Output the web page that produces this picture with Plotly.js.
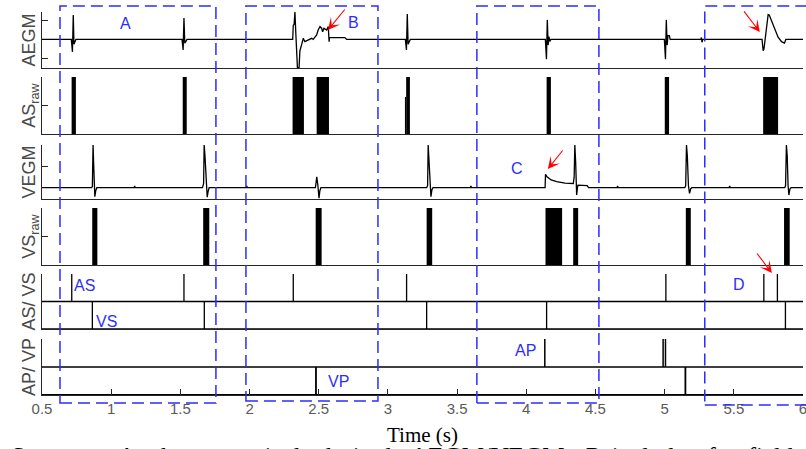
<!DOCTYPE html>
<html><head><meta charset="utf-8">
<script src="https://cdn.plot.ly/plotly-3.0.1.min.js"></script>
<style>html,body{margin:0;padding:0;background:#fff;overflow:hidden}#chart{width:806px;height:449px}</style>
</head><body><div id="chart"></div>
<script>
// ---------------- data ----------------
const panelLabels = ['AEGM', 'AS<sub>raw</sub>', 'VEGM', 'VS<sub>raw</sub>', 'AS/ VS', 'AP/ VP'];
const xTickVals = [0.5, 1, 1.5, 2, 2.5, 3, 3.5, 4, 4.5, 5, 5.5, 6];
const xTickText = ['0.5', '1', '1.5', '2', '2.5', '3', '3.5', '4', '4.5', '5', '5.5', '6'];

// atrial electrogram (time s, amplitude)
const aegmTime = [0.48,
  0.712, 0.720, 0.726, 0.731, 0.738, 0.745,
  1.512, 1.520, 1.526, 1.532, 1.540, 1.548,
  2.312, 2.316, 2.322, 2.328, 2.334, 2.340, 2.346, 2.358, 2.364, 2.376, 2.388, 2.400, 2.424, 2.449, 2.460, 2.473, 2.485, 2.496, 2.509, 2.521, 2.528, 2.538, 2.557, 2.569, 2.572, 2.575, 2.578, 2.689, 2.702,
  3.126, 3.134, 3.140, 3.146, 3.154, 3.162,
  4.138, 4.146, 4.152, 4.158, 4.164, 4.170, 4.178,
  4.998, 5.006, 5.012, 5.018, 5.024, 5.034, 5.040,
  5.262, 5.266, 5.270, 5.276,
  5.704, 5.712, 5.718, 5.738, 5.748, 5.756, 5.772, 5.796, 5.820, 5.845, 5.866, 5.876,
  6.02];
const aegmValue = [0,
  0, -0.66, 1.30, -0.25, -0.15, 0,
  0, -0.56, 1.14, -0.20, -0.10, 0,
  0, 0.75, 0.80, 1.46, 0.40, -0.30, -1.50, -1.50, -0.60, -0.29, 0.06, -0.12, -0.03, 0.06, 0.0, 0.15, 0.24, 0.50, 0.68, 0.60, 0.41, 0.60, 0.50, 0.68, 0.0, -0.12, 0.10, 0.10, 0,
  0, -0.56, 1.35, -0.25, -0.10, 0,
  0, -1.05, 1.04, -0.30, 0.15, -0.10, 0,
  0, -1.05, 1.04, -0.30, 0.20, 0.20, 0,
  0, 0.10, -0.15, 0,
  0, -0.60, -0.50, 0.90, 1.32, 1.30, 1.00, 0.55, 0.12, -0.12, -0.20, 0,
  0];

// ventricular electrogram (time s, amplitude)
const vegmTime = [0.48,
  0.858, 0.864, 0.869, 0.874, 0.882, 0.888, 0.896,
  1.166, 1.170, 1.174,
  1.660, 1.668, 1.672, 1.678, 1.686, 1.694, 1.700, 1.708,
  1.976, 1.980, 1.984,
  2.476, 2.482, 2.486, 2.494, 2.502, 2.508, 2.516,
  3.280, 3.287, 3.291, 3.298, 3.306, 3.311, 3.318, 3.326,
  3.596, 3.600, 3.604,
  4.136, 4.139, 4.142, 4.150, 4.180, 4.220, 4.280, 4.340, 4.346, 4.351, 4.357, 4.364, 4.370, 4.374, 4.440, 4.450,
  4.656, 4.660, 4.664,
  5.146, 5.152, 5.158, 5.164, 5.172, 5.180, 5.188, 5.196,
  5.466, 5.470, 5.474,
  5.868, 5.874, 5.880, 5.886, 5.892, 5.898, 5.906, 5.914,
  6.02];
const vegmValue = [0,
  0, 0.05, 2.03, 1.00, -0.43, -0.15, 0,
  0, 0.08, 0,
  0, 0.20, 2.03, 1.50, 0.30, -0.45, -0.20, 0,
  0, 0.08, 0,
  0, 0.30, 0.52, 0.10, -0.50, -0.15, 0,
  0, 0.10, 2.03, 1.20, -0.10, -0.43, -0.10, 0,
  0, 0.08, 0,
  0, 0.64, 0.62, 0.52, 0.37, 0.29, 0.22, 0.20, 0.50, 2.03, 1.20, -0.35, 0.0, 0.12, 0.10, 0,
  0, 0.08, 0,
  0, 0.10, 2.03, 1.50, 0.10, -0.27, -0.05, 0,
  0, 0.08, 0,
  0, 0.10, 2.03, 1.50, 0.10, -0.35, -0.05, 0,
  0];

// raw sense pulses (start s, end s, level)
const asRawStart = [0.714, 1.517, 2.311, 2.485, 3.123, 3.132, 4.147, 5.001, 5.712];
const asRawEnd   = [0.745, 1.546, 2.393, 2.574, 3.132, 3.159, 4.178, 5.032, 5.820];
const asRawLevel = [1, 1, 1, 1, 0.65, 1, 1, 1, 1];
const vsRawStart = [0.863, 1.665, 2.478, 3.280, 4.139, 4.339, 5.153, 5.863];
const vsRawEnd   = [0.900, 1.709, 2.521, 3.320, 4.259, 4.375, 5.189, 5.904];
const vsRawLevel = [1, 1, 1, 1, 1, 1, 1, 1];

// event markers (time s)
const asTimes = [0.715, 1.526, 2.316, 3.135, 5.009, 5.717, 5.815];
const vsTimes = [0.864, 1.673, 3.280, 4.147, 5.873];
const apTimes = [4.134, 4.989, 5.006];
const vpTimes = [2.480, 5.150];

// highlighted segments (time s)
const segmentNames = ['A', 'B', 'C', 'D'];
const segmentStart = [0.63, 1.974, 3.643, 5.29];
const segmentEnd   = [1.757, 2.928, 4.525, 6.3];

// caption words
const captionWordsA = ['Segment', '<i>A</i>', 'shows', 'typical', 'desired', 'AEGM/VEGM;'];
const captionWordsB = ['<i>B</i>', 'includes', 'far', 'field', 'R'];

// ---------------- build ----------------
const AX = '#262626';
const BLUE = 'rgb(45,45,250)';
const LABEL_FONT = {family: 'Liberation Sans, Arial, sans-serif', size: 18, color: '#4a4a4a'};
const X_MIN = 0.5, X_MAX = 6;

function pulseTrain(times, base, height) {
  const x = [0.48], y = [base];
  times.forEach(t => { x.push(t, t, t); y.push(base, base + height, base); });
  x.push(6.02); y.push(base);
  return {x, y};
}
function bars(start, end, level, xa, ya) {
  return {
    type: 'bar', xaxis: xa, yaxis: ya,
    x: start.map((s, i) => (s + end[i]) / 2),
    width: start.map((s, i) => end[i] - s),
    y: level, base: 0,
    marker: {color: '#000', line: {width: 0}},
    hoverinfo: 'skip'
  };
}
function line(x, y, xa, ya, w) {
  return {type: 'scatter', mode: 'lines', x, y, xaxis: xa, yaxis: ya,
    line: {color: '#000', width: w || 1.2}, hoverinfo: 'skip'};
}

const asTrain = pulseTrain(asTimes, 1, 1);
const vsTrain = pulseTrain(vsTimes, 0, 1);
const apTrain = pulseTrain(apTimes, 1, 1);
const vpTrain = pulseTrain(vpTimes, 0, 1);

const traces = [
  line(aegmTime, aegmValue, 'x', 'y', 1.3),
  bars(asRawStart, asRawEnd, asRawLevel, 'x2', 'y2'),
  line(vegmTime, vegmValue, 'x3', 'y3', 1.3),
  bars(vsRawStart, vsRawEnd, vsRawLevel, 'x4', 'y4'),
  line(asTrain.x, asTrain.y, 'x5', 'y5', 1.3),
  line(vsTrain.x, vsTrain.y, 'x5', 'y5', 1.3),
  line(apTrain.x, apTrain.y, 'x6', 'y6', 1.5),
  line(vpTrain.x, vpTrain.y, 'x6', 'y6', 1.8)
];

const domains = [[0.8538, 1], [0.6815, 0.8303], [0.5117, 0.6527], [0.3394, 0.4883], [0.1723, 0.3159], [0, 0.1462]];
const yRanges = [[-1.52, 1.46], [0, 1], [-0.54, 2.03], [0, 1], [0, 2], [0, 2]];
const yTicks = [[-1, 1], [0.5], [1, 2], [0.5], [2], [2]];

const layout = {
  width: 806, height: 449,
  margin: {l: 42, r: 3, t: 12, b: 54},
  paper_bgcolor: '#fff', plot_bgcolor: 'rgba(0,0,0,0)',
  showlegend: false, barmode: 'overlay',
  font: {family: 'Liberation Sans, Arial, sans-serif', color: '#555'},
  shapes: [], annotations: []
};

for (let k = 1; k <= 6; k++) {
  const s = k === 1 ? '' : String(k);
  const bottom = k === 6;
  layout['xaxis' + s] = {
    domain: [0, 1], anchor: 'y' + s, range: [X_MIN, X_MAX],
    showline: true, linecolor: AX, linewidth: 1.2,
    showgrid: false, zeroline: false,
    tickvals: xTickVals, ticktext: xTickText,
    ticks: bottom ? 'inside' : '', ticklen: 6, tickcolor: AX, tickwidth: 1,
    showticklabels: bottom, ticklabeloverflow: 'allow',
    tickfont: {family: 'Liberation Sans, Arial, sans-serif', size: 15, color: '#5a5a5a'},
    fixedrange: true
  };
  if (bottom) {
    layout['xaxis' + s].title = {text: 'Time (s)', standoff: 11,
      font: {family: 'Liberation Serif, Times New Roman, serif', size: 21, color: '#000'}};
  }
  layout['yaxis' + s] = {
    domain: domains[k - 1], anchor: 'x' + s, range: yRanges[k - 1],
    showline: true, linecolor: AX, linewidth: 1.2,
    showgrid: false, zeroline: false,
    tickvals: yTicks[k - 1], ticks: 'inside', ticklen: 6, tickcolor: AX, tickwidth: 1,
    showticklabels: false, fixedrange: true,
    title: {text: panelLabels[k - 1], font: LABEL_FONT, standoff: 0}
  };
}

// dashed segment boxes (time converted to paper fraction so the open right box is not closed)
const toPaper = t => (t - X_MIN) / (X_MAX - X_MIN);
const boxBottoms = [-0.0209, -0.0157, -0.0209, -0.0261];
segmentNames.forEach((n, i) => {
  layout.shapes.push({type: 'rect', xref: 'paper', yref: 'paper',
    x0: toPaper(segmentStart[i]), x1: toPaper(segmentEnd[i]), y0: boxBottoms[i], y1: 1.0157,
    line: {color: BLUE, width: 1.5, dash: '12px,6px'}, fillcolor: 'rgba(0,0,0,0)'});
});

// blue text labels
const labelPos = [
  ['A', 1.107, 0.9705], ['B', 2.754, 0.972], ['C', 3.930, 0.592], ['D', 5.536, 0.2898],
  ['AS', 0.806, 0.2854], ['VS', 0.967, 0.1914], ['VP', 2.646, 0.0347], ['AP', 3.997, 0.1149]
];
labelPos.forEach(p => layout.annotations.push({text: p[0], xref: 'x', yref: 'paper', x: p[1], y: p[2],
  showarrow: false, xanchor: 'center', yanchor: 'middle',
  font: {family: 'Liberation Sans, Arial, sans-serif', size: 16, color: BLUE}}));

// red arrows
const arrows = [[2.567, 0.953, 18, -22], [5.688, 0.948, -17, -22], [4.156, 0.590, 16, -20], [5.775, 0.3185, -16, -21]];
arrows.forEach(a => layout.annotations.push({text: '', xref: 'x', yref: 'paper', x: a[0], y: a[1],
  ax: a[2], ay: a[3], showarrow: true, arrowhead: 3, arrowsize: 1.8, arrowwidth: 1.1,
  arrowcolor: 'rgb(255,0,0)', standoff: 0}));

// caption (cut off at the bottom of the figure), justified-looking word spacing
const gapA = ' \u00a0\u00a0', gapB = ' \u00a0';
const captionText = captionWordsA.join(gapA) + gapB + captionWordsB.join(gapB);
layout.annotations.push({text: captionText,
  xref: 'paper', yref: 'paper', x: -0.043, y: -0.119, xanchor: 'left', yanchor: 'top', showarrow: false,
  font: {family: 'Liberation Serif, Times New Roman, serif', size: 25, color: '#000'}});

Plotly.newPlot('chart', traces, layout, {staticPlot: true, displayModeBar: false});
</script>
</body></html>
